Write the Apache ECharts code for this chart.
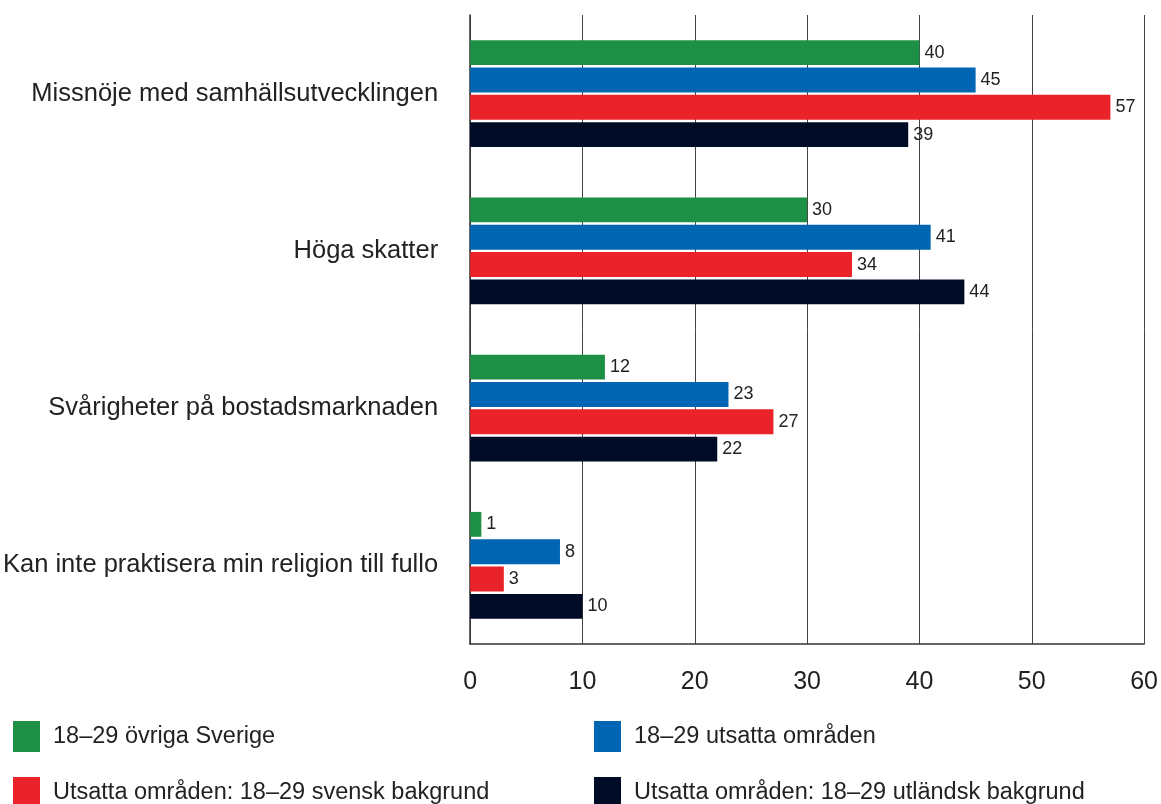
<!DOCTYPE html>
<html><head><meta charset="utf-8">
<script src="https://cdn.jsdelivr.net/npm/echarts@6/dist/echarts.min.js"></script>
<style>html,body{margin:0;padding:0;background:#fff}#c{width:1161px;height:804px}</style>
</head><body><div id="c"></div>
<script>
const categories = ['Missnöje med samhällsutvecklingen','Höga skatter','Svårigheter på bostadsmarknaden','Kan inte praktisera min religion till fullo'];
const seriesNames = ['18–29 övriga Sverige','18–29 utsatta områden','Utsatta områden: 18–29 svensk bakgrund','Utsatta områden: 18–29 utländsk bakgrund'];
const colors = ['#1e9046','#0066b3','#e92329','#000b26'];
const s1 = [40,30,12,1];
const s2 = [45,41,23,8];
const s3 = [57,34,27,3];
const s4 = [39,44,22,10];
const xTicks = [0,10,20,30,40,50,60];
const values = [s1,s2,s3,s4];
const FONT = 'Liberation Sans, Arial, sans-serif';
const chart = echarts.init(document.getElementById('c'));
const legendPos = [[13,721],[594,721],[13,777],[594,777]];
chart.setOption({
  animation:false,
  textStyle:{fontFamily:FONT},
  grid:{left:470,right:15,top:15,bottom:160},
  xAxis:{type:'value',min:xTicks[0],max:xTicks[xTicks.length-1],interval:10,
    axisLine:{show:true,lineStyle:{color:'#333',width:1.5}},axisTick:{show:false},
    splitLine:{show:true,lineStyle:{color:'#444',width:1}},
    axisLabel:{color:'#222',fontSize:25,margin:26,fontFamily:FONT}},
  yAxis:{type:'category',data:categories,inverse:true,
    axisLine:{show:true,lineStyle:{color:'#333',width:1.5}},axisTick:{show:false},
    axisLabel:{color:'#222',fontSize:25.5,margin:32,fontFamily:FONT}},
  legend: seriesNames.map((n,i)=>({data:[n],left:legendPos[i][0],top:legendPos[i][1],
    padding:0,itemWidth:27,itemHeight:31,itemGap:0,icon:'rect',
    textStyle:{fontSize:23.5,color:'#222',padding:[0,0,0,8],fontFamily:FONT}})),
  series: seriesNames.map((n,i)=>({name:n,type:'bar',data:values[i],
    itemStyle:{color:colors[i]},barGap:'10%',barCategoryGap:'32%',
    label:{show:true,position:'right',distance:5,color:'#222',fontSize:18,fontFamily:FONT}}))
});
</script></body></html>
